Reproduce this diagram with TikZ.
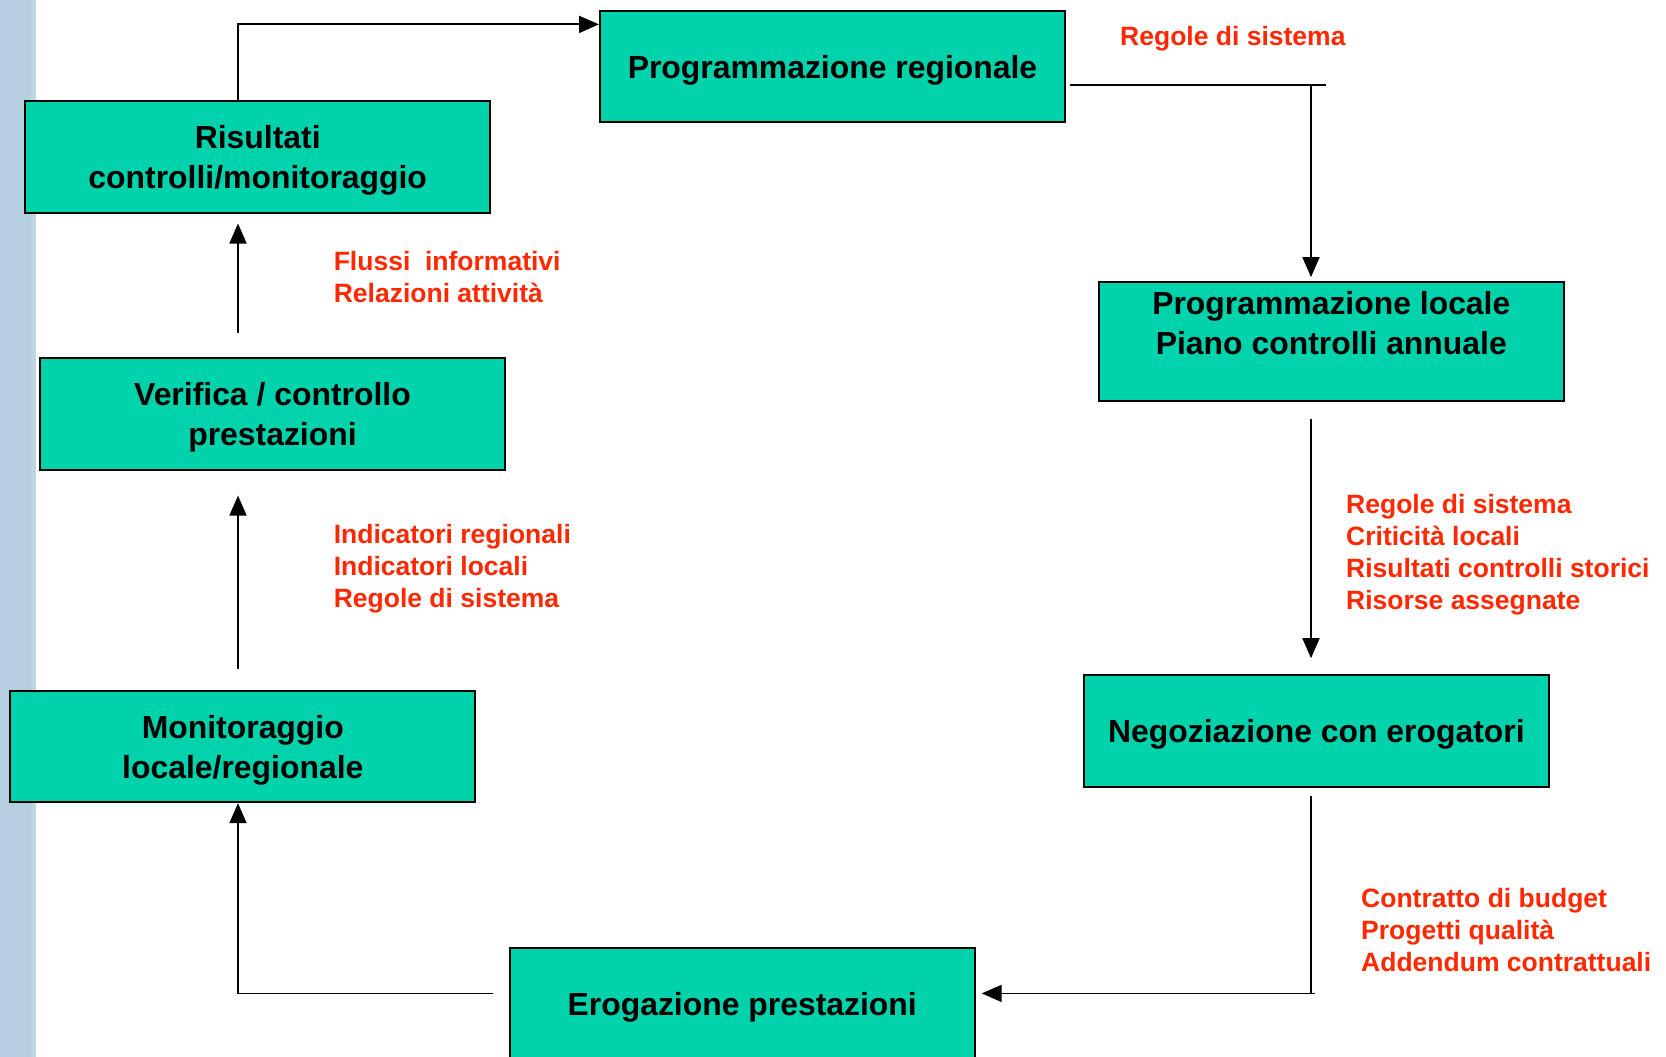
\documentclass[tikz,border=0pt]{standalone}
\usepackage{fontspec}
\setmainfont{Liberation Sans}
\usetikzlibrary{arrows.meta}
\definecolor{boxteal}{RGB}{0,210,172}
\definecolor{notered}{RGB}{255,40,0}
\definecolor{sidebar}{RGB}{181,206,224}
\definecolor{sideedge}{RGB}{190,214,228}
% extra head room above the first line of a box
\newcommand\headroom{\rule{0pt}{30pt}}

\begin{document}
\begin{tikzpicture}[x=1pt,y=-1pt,
  stage/.style={draw=black, line width=2pt, fill=boxteal, minimum width=465pt,
    minimum height=111.6pt, inner sep=0pt, align=center,
    font=\fontsize{31.9pt}{40pt}\selectfont\bfseries},
  note/.style={anchor=north west, inner sep=0pt, align=left, text=notered,
    font=\fontsize{26.5pt}{32pt}\selectfont\bfseries},
  link/.style={line width=1.8pt},
  flow/.style={link, -{Triangle[length=20pt,width=17pt]}}]

\useasboundingbox (0,0) rectangle (1666,1057);
\fill[white] (0,0) rectangle (1666,1057);
\fill[sidebar] (0,0) rectangle (36,1057);
\fill[sideedge] (31,0) rectangle (36,1057);

% process stages
\node[stage] (preg) at (832.5,66.4) {\headroom Programmazione regionale};
\node[stage] (ris) at (257.7,156.7) {\headroom Risultati\\controlli/monitoraggio};
\node[stage] (ver) at (272.5,413.8) {\headroom Verifica / controllo\\prestazioni};
\node[stage] (mon) at (242.8,746.4) {\headroom Monitoraggio\\locale/regionale};
\node[stage] (ero) at (742.2,1003.6) {\headroom Erogazione prestazioni};
\node[stage, minimum height=119pt] (ploc) at (1331.3,341.1)
  {\rule{0pt}{27pt}Programmazione locale\\Piano controlli annuale\\\mbox{}};
\node[stage] (neg) at (1316.4,731) {\headroom Negoziazione con erogatori};

% bend points of the cycle
\coordinate (k1) at (238,24.4);
\coordinate (k2) at (1311,85);
\coordinate (k2e) at (1326,85);
\coordinate (k3) at (1311,993.4);
\coordinate (k4) at (238,993.4);

% connectors
\draw[flow] (ris.north -| k1) -- (k1) -- (k1 -| preg.west);
\draw[link] ([xshift=4pt]preg.east |- k2) -- (k2e);
\draw[flow, shorten >=3.5pt] (k2) -- (k2 |- ploc.north);
\draw[flow] ([yshift=-17pt]ploc.south -| k2) -- ([yshift=16pt]neg.north -| k2);
\draw[link] ([yshift=-8pt]neg.south -| k3) -- (k3);
\draw[flow] ([xshift=4pt]k3) -- ([xshift=6pt]ero.east |- k3);
\draw[flow] ([xshift=-16pt]ero.west |- k4) -- (k4) -- (k4 |- mon.south);
\draw[flow] ([yshift=21pt]mon.north -| k4) -- ([yshift=-25pt]ver.south -| k4);
\draw[flow] ([yshift=24pt]ver.north -| k4) -- ([yshift=-10pt]ris.south -| k4);

% inputs of each step
\node[note] (n1) at (1120,26.5) {Regole di sistema};
\node[note] (n2) at (333.6,251.5) {Flussi\ \ informativi\\Relazioni attività};
\node[note] (n3) at (333.6,524.5) {Indicatori regionali\\Indicatori locali\\Regole di sistema};
\node[note] (n4) at (1346,494) {Regole di sistema\\Criticità locali\\Risultati controlli storici\\Risorse assegnate};
\node[note] (n5) at (1361,888.5) {Contratto di budget\\Progetti qualità\\Addendum contrattuali};
\end{tikzpicture}
\end{document}
